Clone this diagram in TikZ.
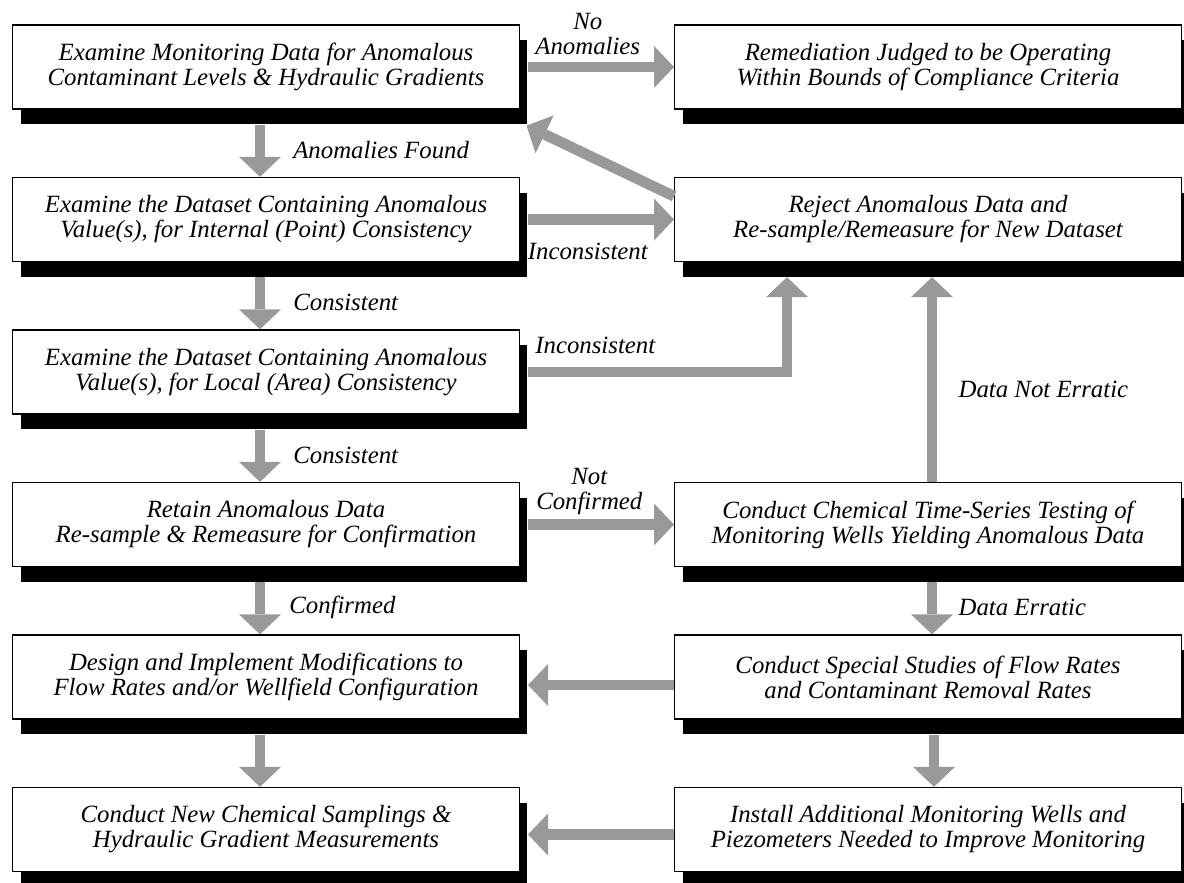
\documentclass[tikz,border=0pt]{standalone}
\usepackage{fontspec}
\setmainfont{Liberation Serif}
\usetikzlibrary{arrows.meta,positioning,shadows}

\begin{document}
\begin{tikzpicture}[x=0.75pt,y=-0.75pt,node distance=114.375pt and 496.5pt,on grid,
    stepbox/.style={draw,line width=1pt,fill=white,minimum width=380pt,minimum height=63pt,
        align=center,font=\fontsize{18.6}{18.75}\selectfont\itshape,
        drop shadow={shadow xshift=6pt,shadow yshift=-11.25pt,fill=black,opacity=1}},
    flow/.style={draw,color=black!40,line width=8pt,-{Triangle[width=31.5pt,length=15pt,line width=0pt]}},
    lbl/.style={inner sep=0pt,align=center,text=black,font=\fontsize{18.6}{18.75}\selectfont\itshape}]
\useasboundingbox (0,0) rectangle (1184,882);
% left column
\node[stepbox] (exam) at (266,67) {Examine Monitoring Data for Anomalous\\Contaminant Levels \& Hydraulic Gradients};
\node[stepbox] (intern) [below=of exam] {Examine the Dataset Containing Anomalous\\Value(s), for Internal (Point) Consistency};
\node[stepbox] (local) [below=of intern] {Examine the Dataset Containing Anomalous\\Value(s), for Local (Area) Consistency};
\node[stepbox] (retain) [below=of local] {Retain Anomalous Data\\Re-sample \& Remeasure for Confirmation};
\node[stepbox] (design) [below=of retain] {Design and Implement Modifications to\\Flow Rates and/or Wellfield Configuration};
\node[stepbox] (newsamp) [below=of design] {Conduct New Chemical Samplings \&\\Hydraulic Gradient Measurements};
% right column
\node[stepbox] (ok) [right=of exam] {Remediation Judged to be Operating\\Within Bounds of Compliance Criteria};
\node[stepbox] (reject) [right=of intern] {Reject Anomalous Data and\\Re-sample/Remeasure for New Dataset};
\node[stepbox] (series) [right=of retain] {Conduct Chemical Time-Series Testing of\\Monitoring Wells Yielding Anomalous Data};
\node[stepbox] (special) [right=of design] {Conduct Special Studies of Flow Rates\\and Contaminant Removal Rates};
\node[stepbox] (install) [right=of newsamp] {Install Additional Monitoring Wells and\\Piezometers Needed to Improve Monitoring};

\path[every edge/.style=flow]
    (exam) edge[shorten <=6pt] node[lbl,above=5pt,pos=0.44] {No\\Anomalies} (ok)
    ([xshift=-4.5pt]exam.south) edge[shorten <=11.25pt] node[lbl,right=21pt,pos=0.6] {Anomalies Found} ([xshift=-4.5pt]intern.north)
    (intern) edge[shorten <=6pt] node[lbl,below=13.5pt,pos=0.44] {Inconsistent} (reject)
    ([xshift=-4.5pt]intern.south) edge[shorten <=11.25pt] node[lbl,right=21pt,pos=0.6] {Consistent} ([xshift=-4.5pt]local.north)
    ([xshift=-4.5pt]local.south) edge[shorten <=11.25pt] node[lbl,right=21pt,pos=0.6] {Consistent} ([xshift=-4.5pt]retain.north)
    (retain) edge[shorten <=6pt] node[lbl,above=3pt,pos=0.45] {Not\\Confirmed} (series)
    ([xshift=-4.5pt]retain.south) edge[shorten <=11.25pt] node[lbl,right=18pt,pos=0.6] {Confirmed} ([xshift=-4.5pt]design.north)
    ([xshift=-4.5pt]design.south) edge[shorten <=11.25pt] ([xshift=-4.5pt]newsamp.north)
    ([xshift=3pt]series.north) edge[shorten >=11.25pt] node[lbl,right=16pt,pos=0.42] {Data Not Erratic} ([xshift=3pt]reject.south)
    ([xshift=3pt]series.south) edge[shorten <=11.25pt] node[lbl,right=16pt,pos=0.6] {Data Erratic} ([xshift=3pt]special.north)
    ([xshift=4.5pt]special.south) edge[shorten <=11.25pt] ([xshift=4.5pt]install.north)
    ([yshift=-6pt]special.west) edge[shorten >=6pt] ([yshift=-6pt]design.east)
    ([yshift=-3.75pt]install.west) edge[shorten >=6pt] ([yshift=-3.75pt]newsamp.east);
\draw[flow,shorten <=6pt] (local.east) -| node[lbl,above=9.75pt,pos=0.141] {Inconsistent} ([xshift=-105.75pt,yshift=-11.25pt]reject.south);
\draw[flow] ([yshift=-14.6pt]reject.north west) -- ([xshift=4.9pt,yshift=-12pt]exam.south east);
\end{tikzpicture}
\end{document}
